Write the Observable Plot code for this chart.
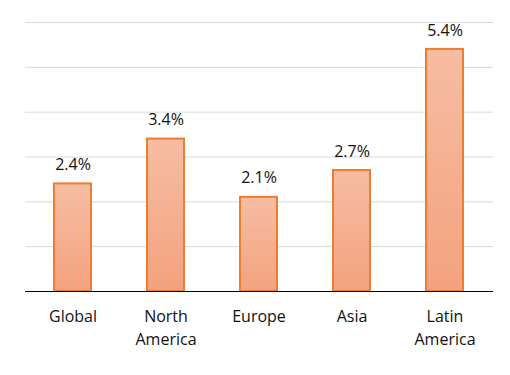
<!DOCTYPE html>
<html><head><meta charset="utf-8">
<script src="https://cdn.jsdelivr.net/npm/d3@7"></script>
<script src="https://cdn.jsdelivr.net/npm/@observablehq/plot@0.6"></script>
<style>body{margin:0;background:#fff}</style>
</head><body><div id="chart"></div>
<script>
const regions = ["Global", "North\nAmerica", "Europe", "Asia", "Latin\nAmerica"];
const values = [2.4, 3.4, 2.1, 2.7, 5.4];
const yTicks = [0, 1, 2, 3, 4, 5, 6];
const data = regions.map((r, i) => ({region: r, value: values[i]}));
const font = "'Open Sans', 'Noto Sans', sans-serif";

const chart = Plot.plot({
  width: 510, height: 375,
  marginLeft: 25, marginRight: 17, marginTop: 22, marginBottom: 84,
  style: {fontFamily: font, fontSize: "16px", color: "#000", background: "#fff"},
  x: {domain: regions, paddingInner: 0.6, paddingOuter: 0.3, label: null, axis: null},
  y: {domain: [0, 6], label: null, axis: null},
  marks: [
    Plot.gridY(yTicks.slice(1), {stroke: "#d9d9d9", strokeOpacity: 1}),
    Plot.barY(data, {x: "region", y: "value", fill: "url(#barGrad)", stroke: "#ed7d31", strokeWidth: 2}),
    Plot.text(data, {x: "region", y: "value", text: d => d.value.toFixed(1) + "%", dy: -19, fontSize: 16, fill: "#111"}),
    Plot.ruleY([0], {stroke: "#000", strokeWidth: 1}),
    Plot.axisX({tickSize: 0, tickPadding: 14, fontSize: 16, lineHeight: 1.45, fill: "#111"}),
  ]
});
const svg = d3.select(chart);
const defs = svg.insert("defs", ":first-child");
const g = defs.append("linearGradient").attr("id", "barGrad").attr("x1", 0).attr("y1", 0).attr("x2", 0).attr("y2", 1);
g.append("stop").attr("offset", "0%").attr("stop-color", "#f6bda3");
g.append("stop").attr("offset", "100%").attr("stop-color", "#f4a27e");
document.getElementById("chart").appendChild(chart);
</script>
</body></html>
